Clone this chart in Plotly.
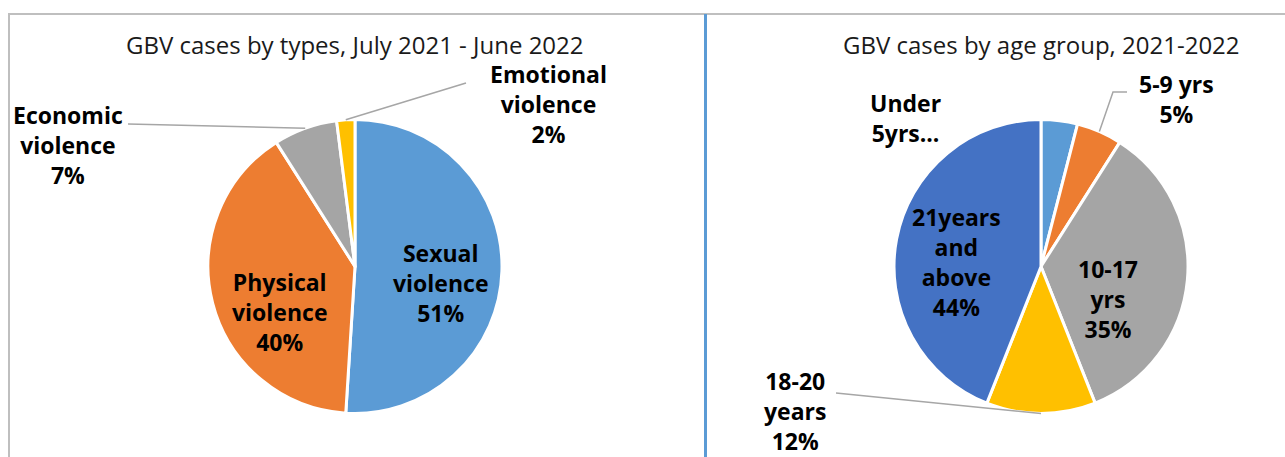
import math
import plotly.graph_objects as go

W, H = 1285, 457

# ---- data -------------------------------------------------------------
type_labels = ["Sexual violence", "Physical violence", "Economic violence", "Emotional violence"]
type_values = [51, 40, 7, 2]
type_display = ["Sexual<br>violence", "Physical<br>violence", "Economic<br>violence", "Emotional<br>violence"]

age_labels = ["Under 5yrs", "5-9 yrs", "10-17 yrs", "18-20 years", "21years and above"]
age_values = [4, 5, 35, 12, 44]
age_display = ["Under<br>5yrs...", "5-9 yrs", "10-17<br>yrs", "18-20<br>years", "21years<br>and<br>above"]
age_show_pct = [False, True, True, True, True]

titles = ["GBV cases by types, July 2021 - June 2022", "GBV cases by age group, 2021-2022"]

# ---- styling ----------------------------------------------------------
type_colors = ["#5B9BD5", "#ED7D31", "#A5A5A5", "#FFC000"]
age_colors = ["#5B9BD5", "#ED7D31", "#A5A5A5", "#FFC000", "#4472C4"]
FONT = "Open Sans"
LABEL_SIZE = 23
TITLE_SIZE = 24
LEADER = "#A6A6A6"

R = 147
centers = [(355, 266.5), (1041, 266.5)]


def paper(x, y):
    return x / W, 1 - y / H


def domain(c):
    cx, cy = c
    x0, y1 = paper(cx - R, cy - R)
    x1, y0 = paper(cx + R, cy + R)
    return dict(x=[x0, x1], y=[y0, y1])


def arc_point(c, values, i, k=1.0):
    """Pixel point on the mid-angle of slice i (clockwise from 12 o'clock)."""
    total = sum(values)
    mid = (sum(values[:i]) + values[i] / 2) / total * 2 * math.pi
    return c[0] + k * R * math.sin(mid), c[1] - k * R * math.cos(mid)


def pct(values, i):
    return f"{round(values[i] / sum(values) * 100)}%"


fig = go.Figure()

for c, labels, values, colors in [
    (centers[0], type_labels, type_values, type_colors),
    (centers[1], age_labels, age_values, age_colors),
]:
    fig.add_trace(go.Pie(
        labels=labels, values=values, sort=False, direction="clockwise", rotation=0,
        marker=dict(colors=colors, line=dict(color="white", width=3)),
        textinfo="none", hoverinfo="label+percent", domain=domain(c), showlegend=False,
    ))

annotations = []
shapes = []

# titles
for c, t in zip(centers, titles):
    x, y = paper(c[0], 45)
    annotations.append(dict(x=x, y=y, xref="paper", yref="paper", text=t, showarrow=False,
                            font=dict(family=FONT, size=TITLE_SIZE, color="#1a1a1a"),
                            xanchor="center", yanchor="middle"))

# data label positions (pixel centres of the text blocks)
type_pos = [(440, 283), (279, 312), (68, 145), (548, 104)]
age_pos = [(905, 118), (1176, 99), (1108, 299), (795, 411), (956, 262)]

for i, (x, y) in enumerate(type_pos):
    px_, py_ = paper(x, y)
    annotations.append(dict(x=px_, y=py_, xref="paper", yref="paper",
                            text=f"<b>{type_display[i]}<br>{pct(type_values, i)}</b>",
                            showarrow=False, align="center", xanchor="center", yanchor="middle",
                            font=dict(family=FONT, size=LABEL_SIZE, color="black")))

for i, (x, y) in enumerate(age_pos):
    px_, py_ = paper(x, y)
    txt = age_display[i] + (f"<br>{pct(age_values, i)}" if age_show_pct[i] else "")
    annotations.append(dict(x=px_, y=py_, xref="paper", yref="paper", text=f"<b>{txt}</b>",
                            showarrow=False, align="center", xanchor="center", yanchor="middle",
                            font=dict(family=FONT, size=LABEL_SIZE, color="black")))


def leader(points):
    pts = [paper(x, y) for x, y in points]
    path = "M " + " L ".join(f"{x},{y}" for x, y in pts)
    shapes.append(dict(type="path", path=path, xref="paper", yref="paper",
                       line=dict(color=LEADER, width=1.5)))


leader([(128, 124), arc_point(centers[0], type_values, 2)])
leader([(466, 83), arc_point(centers[0], type_values, 3)])
leader([(1127, 92), (1113, 92), arc_point(centers[1], age_values, 1)])
leader([(836, 393), arc_point(centers[1], age_values, 3)])

# chart frame and divider
x0, y0 = paper(8, 14)
x1, _ = paper(W, 14)
_, yb = paper(0, H)
shapes.append(dict(type="line", xref="paper", yref="paper", x0=x0, x1=x1, y0=y0, y1=y0,
                   line=dict(color="#BFBFBF", width=2)))
shapes.append(dict(type="line", xref="paper", yref="paper", x0=paper(9, 0)[0], x1=paper(9, 0)[0],
                   y0=y0, y1=yb, line=dict(color="#BFBFBF", width=2)))
xd = paper(705.5, 0)[0]
shapes.append(dict(type="line", xref="paper", yref="paper", x0=xd, x1=xd, y0=y0, y1=yb,
                   line=dict(color="#5B9BD5", width=3)))

fig.update_layout(
    width=W, height=H, margin=dict(l=0, r=0, t=0, b=0),
    paper_bgcolor="white", plot_bgcolor="white",
    font=dict(family=FONT),
    annotations=annotations, shapes=shapes,
)

fig.write_html("out.html")
